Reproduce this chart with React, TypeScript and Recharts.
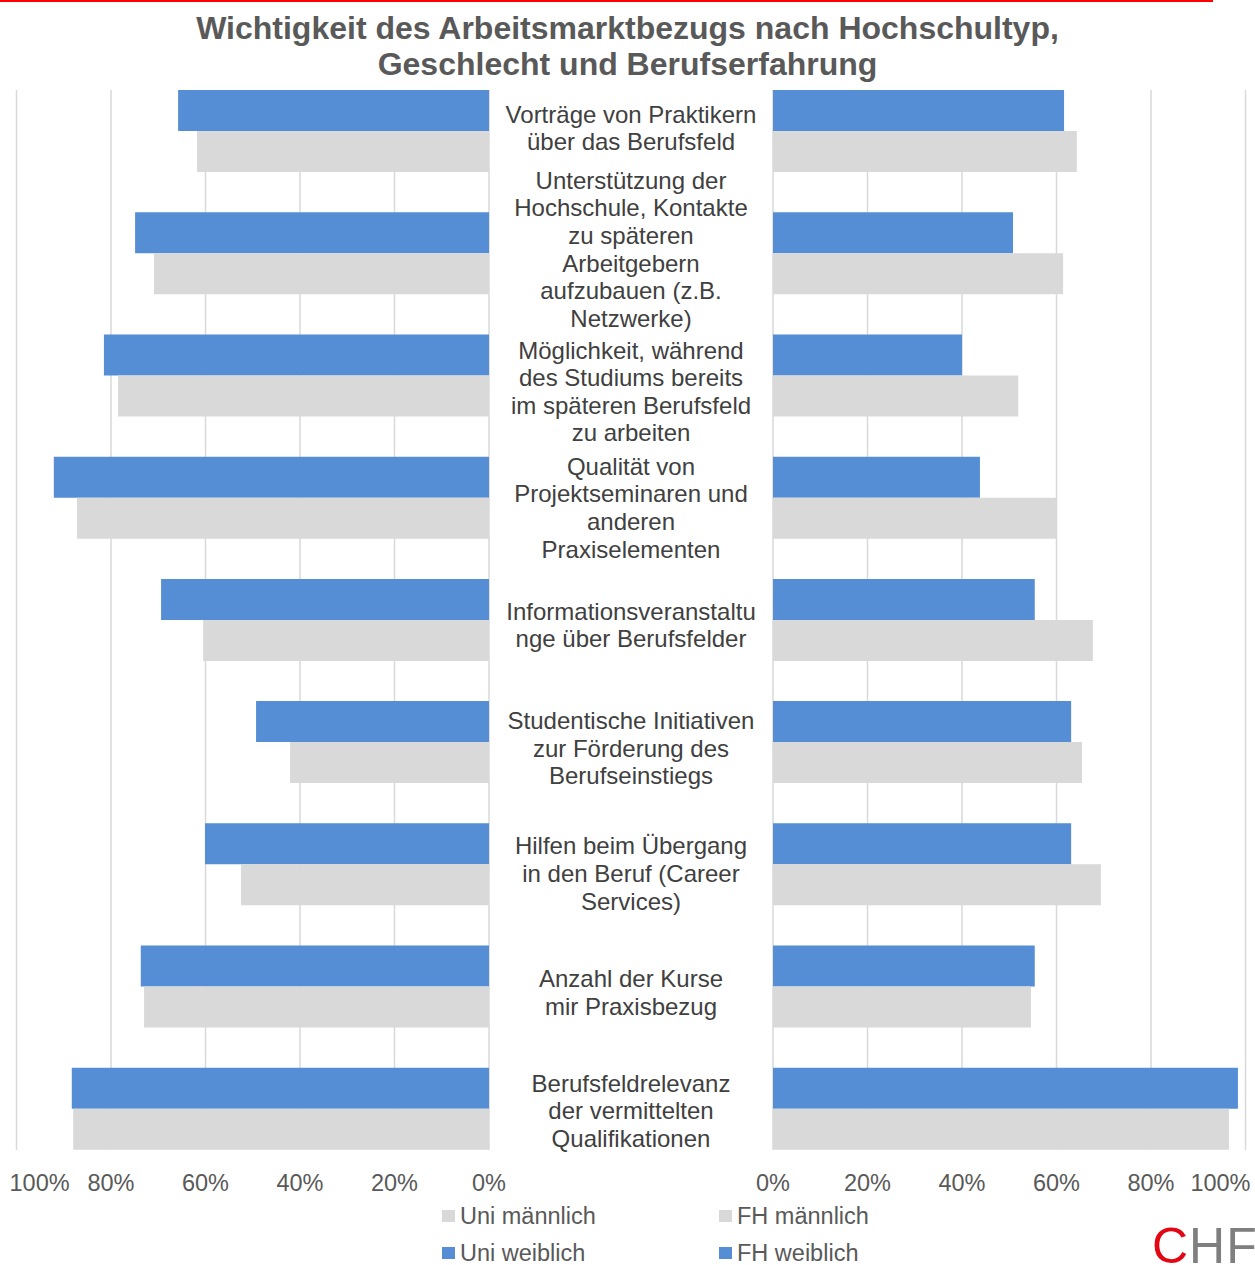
import { Bar, BarChart, CartesianGrid, XAxis, YAxis } from 'recharts'

// category labels, already broken into lines like the original
const categoryLines: string[][] = [
  ['Vorträge von Praktikern', 'über das Berufsfeld'],
  ['Unterstützung der', 'Hochschule, Kontakte', 'zu späteren', 'Arbeitgebern', 'aufzubauen (z.B.', 'Netzwerke)'],
  ['Möglichkeit, während', 'des Studiums bereits', 'im späteren Berufsfeld', 'zu arbeiten'],
  ['Qualität von', 'Projektseminaren und', 'anderen', 'Praxiselementen'],
  ['Informationsveranstaltu', 'nge über Berufsfelder'],
  ['Studentische Initiativen', 'zur Förderung des', 'Berufseinstiegs'],
  ['Hilfen beim Übergang', 'in den Beruf (Career', 'Services)'],
  ['Anzahl der Kurse', 'mir Praxisbezug'],
  ['Berufsfeldrelevanz', 'der vermittelten', 'Qualifikationen'],
]

const uniWeiblich = [0.658, 0.749, 0.815, 0.921, 0.694, 0.493, 0.601, 0.737, 0.883]
const uniMaennlich = [0.618, 0.709, 0.785, 0.872, 0.605, 0.421, 0.525, 0.73, 0.88]
const fhWeiblich = [0.616, 0.508, 0.4, 0.438, 0.554, 0.631, 0.631, 0.554, 0.984]
const fhMaennlich = [0.643, 0.614, 0.519, 0.601, 0.677, 0.654, 0.694, 0.546, 0.965]

const percentTicks = [0, 0.2, 0.4, 0.6, 0.8, 1]

// excel nudged some of the wrapped labels up/down so they don't collide
const LABEL_NUDGE = [-3, -4, 16, 10, 5, 6, 9, 6, 2]

const BLUE = '#558ed5'
const GRAY = '#d9d9d9'
const TEXT = '#595959'
const LABEL = '#404040'
const FONT = '"Liberation Sans", Arial, sans-serif'

const uniData = categoryLines.map((lines, i) => ({
  key: lines.join(' '),
  weiblich: uniWeiblich[i],
  maennlich: uniMaennlich[i],
}))

const fhData = categoryLines.map((lines, i) => ({
  key: lines.join(' '),
  weiblich: fhWeiblich[i],
  maennlich: fhMaennlich[i],
}))

const legendItems = [
  { name: 'Uni männlich', color: GRAY, col: 0, row: 0 },
  { name: 'FH männlich', color: GRAY, col: 1, row: 0 },
  { name: 'Uni weiblich', color: BLUE, col: 0, row: 1 },
  { name: 'FH weiblich', color: BLUE, col: 1, row: 1 },
]

function PercentTick(props: any) {
  const { x, y, payload, side } = props
  const value = payload.value as number
  let anchor: 'middle' | 'start' | 'end' = 'middle'
  let tx = x
  // outermost 100% labels are pushed inside like in excel
  if (value === 1 && side === 'left') {
    anchor = 'start'
    tx = x - 7
  }
  if (value === 1 && side === 'right') {
    anchor = 'end'
    tx = x + 5
  }
  return (
    <text x={tx} y={y + 41} textAnchor={anchor} fill={TEXT} fontSize={23.5} fontFamily={FONT}>
      {Math.round(value * 100)}%
    </text>
  )
}

function CategoryTick(props: any) {
  const { x, y, index } = props
  const lines = categoryLines[index] ?? []
  const lineHeight = 27.6
  const startY = y + (LABEL_NUDGE[index] ?? 0) - ((lines.length - 1) * lineHeight) / 2
  return (
    <text x={x - 142} textAnchor="middle" fill={LABEL} fontSize={24} fontFamily={FONT}>
      {lines.map((line, i) => (
        <tspan key={i} x={x - 142} y={startY + i * lineHeight} dominantBaseline="central">
          {line}
        </tspan>
      ))}
    </text>
  )
}

function UniChart() {
  return (
    <BarChart
      width={520}
      height={1265}
      data={uniData}
      layout="vertical"
      margin={{ top: 90, right: 31, bottom: 85, left: 16.5 }}
      barCategoryGap={20}
      barGap={0}
    >
      <CartesianGrid horizontal={false} stroke={GRAY} strokeWidth={1.5} />
      <XAxis
        type="number"
        domain={[0, 1]}
        ticks={percentTicks}
        reversed
        interval={0}
        axisLine={false}
        tickLine={false}
        tickSize={0}
        tickMargin={0}
        height={30}
        tick={<PercentTick side="left" />}
      />
      <YAxis type="category" dataKey="key" hide padding={{ top: -20, bottom: -20 }} />
      <Bar dataKey="weiblich" fill={BLUE} isAnimationActive={false} />
      <Bar dataKey="maennlich" fill={GRAY} isAnimationActive={false} />
    </BarChart>
  )
}

function FhChart() {
  return (
    <BarChart
      width={765}
      height={1265}
      data={fhData}
      layout="vertical"
      margin={{ top: 90, right: 9.5, bottom: 85, left: 0 }}
      barCategoryGap={20}
      barGap={0}
    >
      <CartesianGrid horizontal={false} stroke={GRAY} strokeWidth={1.5} />
      <XAxis
        type="number"
        domain={[0, 1]}
        ticks={percentTicks}
        interval={0}
        axisLine={false}
        tickLine={false}
        tickSize={0}
        tickMargin={0}
        height={30}
        tick={<PercentTick side="right" />}
      />
      <YAxis
        type="category"
        dataKey="key"
        width={283}
        axisLine={false}
        tickLine={false}
        tickSize={0}
        tickMargin={0}
        interval={0}
        padding={{ top: -20, bottom: -20 }}
        tick={<CategoryTick />}
      />
      <Bar dataKey="weiblich" fill={BLUE} isAnimationActive={false} />
      <Bar dataKey="maennlich" fill={GRAY} isAnimationActive={false} />
    </BarChart>
  )
}

export default function App() {
  return (
    <div
      style={{
        position: 'absolute',
        left: 0,
        top: 0,
        width: 1255,
        height: 1265,
        overflow: 'hidden',
        background: '#fff',
        fontFamily: FONT,
      }}
    >
      <div style={{ position: 'absolute', left: 0, top: 0, width: 1213, height: 2, background: '#ff0000' }} />
      <div
        style={{
          position: 'absolute',
          left: 0,
          top: 10,
          width: 1255,
          textAlign: 'center',
          fontSize: 32,
          lineHeight: '36px',
          fontWeight: 'bold',
          color: TEXT,
        }}
      >
        Wichtigkeit des Arbeitsmarktbezugs nach Hochschultyp,
        <br />
        Geschlecht und Berufserfahrung
      </div>

      <div style={{ position: 'absolute', left: 0, top: 0 }}>
        <UniChart />
      </div>
      <div style={{ position: 'absolute', left: 490, top: 0 }}>
        <FhChart />
      </div>

      {legendItems.map((item) => (
        <div
          key={item.name}
          style={{
            position: 'absolute',
            left: 442 + item.col * 277,
            top: 1203 + item.row * 37,
            height: 26,
            display: 'flex',
            alignItems: 'center',
            fontSize: 23.5,
            color: TEXT,
            whiteSpace: 'nowrap',
          }}
        >
          <span style={{ display: 'inline-block', width: 13, height: 12, background: item.color, marginRight: 5 }} />
          {item.name}
        </div>
      ))}

      <div
        style={{
          position: 'absolute',
          left: 1152,
          top: 1216,
          fontSize: 50,
          lineHeight: '60px',
          whiteSpace: 'nowrap',
          letterSpacing: 1,
        }}
      >
        <span style={{ color: '#e30613' }}>C</span>
        <span style={{ color: '#7f7f7f' }}>HF</span>
      </div>
    </div>
  )
}
